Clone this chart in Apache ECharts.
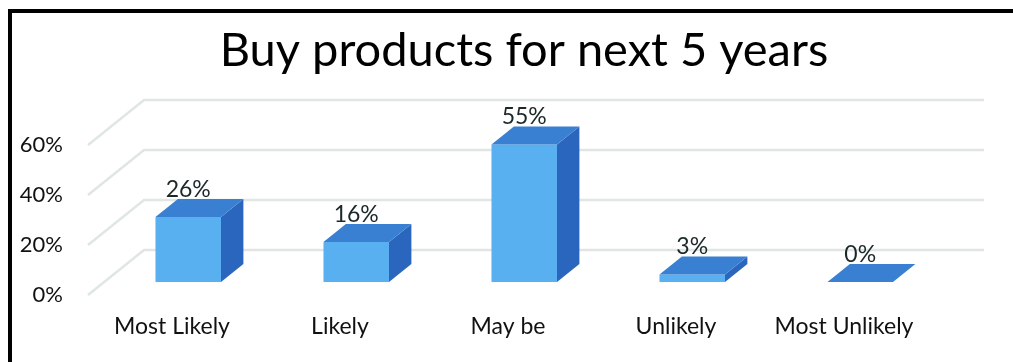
<!DOCTYPE html>
<html>
<head>
<meta charset="utf-8">
<script src="https://cdn.jsdelivr.net/npm/echarts@6/dist/echarts.min.js"></script>
<style>
  html, body { margin: 0; padding: 0; background: #fff; }
  #chart { width: 1013px; height: 362px; }
</style>
</head>
<body>
<div id="chart"></div>
<script>
const categories = ['Most Likely', 'Likely', 'May be', 'Unlikely', 'Most Unlikely'];
const shares = [26, 16, 55, 3, 0];
const yTicks = [0, 20, 40, 60];

// Oblique projection: screen offset from the front edge of the floor to the back wall
const DEPTH_X = 56, DEPTH_Y = -45;
// Depth range each bar occupies (fraction of the floor depth) and its share of the band
const BAR_FRONT = 0.29, BAR_BACK = 0.69, BAR_WIDTH = 0.39;

const FONT = 'Lato';
const COLORS = { front: '#58b0f0', top: '#3a80d2', side: '#2a66bd', grid: '#dfe6e3' };

const chart = echarts.init(document.getElementById('chart'), null, { renderer: 'canvas' });

function renderWall(params, api) {
  const cs = params.coordSys;
  const y = api.coord([0, api.value(1)])[1];
  const left = cs.x, right = cs.x + cs.width;
  return {
    type: 'polyline',
    shape: { points: [[left, y], [left + DEPTH_X, y + DEPTH_Y], [right + DEPTH_X, y + DEPTH_Y]] },
    style: { stroke: COLORS.grid, lineWidth: 2.5, fill: null },
    silent: true
  };
}

function renderBar(params, api) {
  const idx = api.value(0), val = api.value(1);
  const base = api.coord([idx, 0]);
  const topPt = api.coord([idx, val]);
  const cx = base[0], y0 = base[1], y1 = topPt[1];
  const w = api.size([1, 0])[0] * BAR_WIDTH;
  const fx = DEPTH_X * BAR_FRONT, fy = DEPTH_Y * BAR_FRONT;
  const bx = DEPTH_X * BAR_BACK, by = DEPTH_Y * BAR_BACK;
  const L = cx - w / 2, R = cx + w / 2;
  return {
    type: 'group',
    children: [
      {
        type: 'polygon',
        shape: { points: [[R + fx, y1 + fy], [R + bx, y1 + by], [R + bx, y0 + by], [R + fx, y0 + fy]] },
        style: { fill: COLORS.side }
      },
      {
        type: 'rect',
        shape: { x: L + fx, y: y1 + fy, width: w, height: y0 - y1 },
        style: { fill: COLORS.front }
      },
      {
        type: 'polygon',
        shape: { points: [[L + fx, y1 + fy], [R + fx, y1 + fy], [R + bx, y1 + by], [L + bx, y1 + by]] },
        style: { fill: COLORS.top }
      },
      {
        type: 'text',
        style: {
          x: cx + fx, y: y1 + by + 2,
          text: val + '%',
          fill: '#1c2828',
          font: '23px ' + FONT,
          align: 'center',
          verticalAlign: 'bottom'
        }
      }
    ]
  };
}

chart.setOption({
  animation: false,
  title: {
    text: 'Buy products for next 5 years',
    left: 519,
    textAlign: 'center',
    top: 22,
    textStyle: { fontFamily: FONT, fontSize: 47, fontWeight: 'normal', color: '#000' }
  },
  grid: { left: 88, right: 85, top: 145, bottom: 67 },
  xAxis: {
    type: 'category',
    data: categories,
    axisLine: { show: false },
    axisTick: { show: false },
    axisLabel: { interval: 0, fontFamily: FONT, fontSize: 23, color: '#111', margin: 20 }
  },
  yAxis: {
    type: 'value',
    min: 0,
    max: 60,
    interval: 20,
    splitLine: { show: false },
    axisLine: { show: false },
    axisTick: { show: false },
    axisLabel: { fontFamily: FONT, fontSize: 22, color: '#111', margin: 25, formatter: '{value}%' }
  },
  series: [
    {
      type: 'custom',
      name: 'walls',
      data: yTicks.map(v => [0, v]),
      encode: { x: 0, y: 1 },
      renderItem: renderWall,
      z: 1,
      silent: true
    },
    {
      type: 'custom',
      name: 'share',
      data: shares.map((v, i) => [i, v]),
      encode: { x: 0, y: 1 },
      renderItem: renderBar,
      z: 2
    }
  ],
  graphic: [
    { type: 'rect', shape: { x: 8, y: 9, width: 1005, height: 4 }, style: { fill: '#000' } },
    { type: 'rect', shape: { x: 8, y: 9, width: 4, height: 353 }, style: { fill: '#000' } }
  ]
});
</script>
</body>
</html>
